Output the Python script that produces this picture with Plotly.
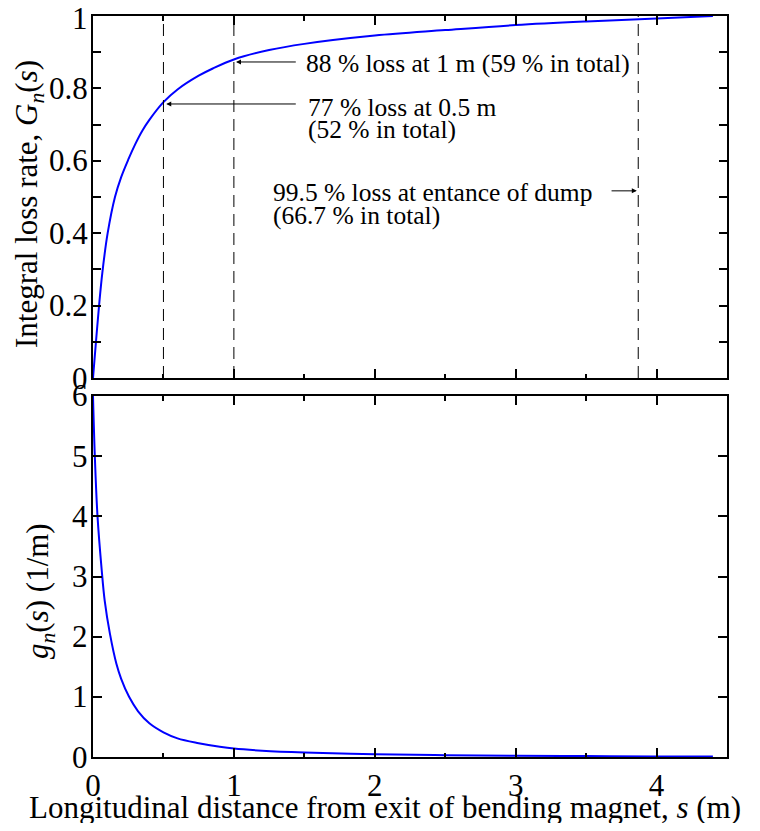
import plotly.graph_objects as go

# ---- data ----
s_G = [0, 0.021, 0.043, 0.066, 0.104, 0.156, 0.2, 0.25, 0.3, 0.35, 0.4, 0.5, 0.6, 0.75, 0.85, 1.0, 1.25, 1.5, 2.0, 2.5, 3.0, 3.5, 4.0, 4.4]
G_n = [0, 0.10, 0.20, 0.29, 0.40, 0.50, 0.555, 0.603, 0.646, 0.683, 0.713, 0.762, 0.797, 0.835, 0.855, 0.880, 0.906, 0.923, 0.946, 0.961, 0.975, 0.985, 0.993, 1.0]

s_g = [0, 0.013, 0.032, 0.062, 0.083, 0.12, 0.166, 0.2, 0.256, 0.32, 0.4, 0.5, 0.6, 0.75, 0.9, 1.0, 1.2, 1.5, 2.0, 2.5, 3.0, 3.5, 4.0, 4.4]
g_n = [6.0, 5.0, 4.0, 3.1, 2.6, 2.05, 1.55, 1.3, 1.0, 0.76, 0.56, 0.41, 0.31, 0.23, 0.17, 0.14, 0.105, 0.075, 0.045, 0.03, 0.02, 0.015, 0.01, 0.008]

marker_s = [0.5, 1.0, 3.87]   # dashed vertical lines

y_top_ticks = [round(0.1 * i, 1) for i in range(11)]
y_top_labels = [0, 0.2, 0.4, 0.6, 0.8, 1]
y_top_text = ["0", "0.2", "0.4", "0.6", "0.8", "1"]
y_bot_ticks = [0, 1, 2, 3, 4, 5, 6]
y_bot_text = ["0", "1", "2", "3", "4", "5", "6"]
x_ticks = [0, 1, 2, 3, 4]
x_text = ["0", "1", "2", "3", "4"]

FONT = "Liberation Serif"
BLUE = "#0000ff"

# page is 760x831; the html body adds an 8px margin, so the figure is 744x815 at (8, 8)
OFF = 8
W, H = 760 - 2 * OFF, 831 - 2 * OFF
PLOT_L, PLOT_R, PLOT_T, PLOT_B = 93, 727, 16, 757       # plot area in page pixels
L, R = PLOT_L - OFF, W - (PLOT_R - OFF)
T, B = PLOT_T - OFF, H - (PLOT_B - OFF)
PW, PH = W - L - R, H - T - B


def px_x(px):
    return (px - PLOT_L) / PW


def px_y(py):
    return (PLOT_B - py) / PH


fig = go.Figure()
fig.add_trace(go.Scatter(x=s_G, y=G_n, mode="lines", line=dict(color=BLUE, width=2, shape="spline", smoothing=1.0),
                         xaxis="x", yaxis="y", showlegend=False))
fig.add_trace(go.Scatter(x=s_g, y=g_n, mode="lines", line=dict(color=BLUE, width=2, shape="spline", smoothing=1.0),
                         xaxis="x2", yaxis="y2", showlegend=False))

for xs in marker_s:
    fig.add_shape(type="line", xref="x", yref="y domain", x0=xs, x1=xs, y0=0, y1=1,
                  line=dict(color="black", width=1, dash="12px,7px"))

axis_common = dict(showline=True, linecolor="black", linewidth=2, mirror="ticks", ticks="inside",
                   tickcolor="black", tickwidth=1.5, showgrid=False, zeroline=False, automargin=False,
                   tickfont=dict(family=FONT, size=31, color="black"))
minor_x = dict(dtick=0.5, ticklen=4.5, ticks="inside", tickcolor="black", tickwidth=1.5)

fig.update_layout(
    width=W, height=H,
    margin=dict(l=L, r=R, t=T, b=B),
    paper_bgcolor="white", plot_bgcolor="white",
    xaxis=dict(domain=[0, 1], range=[0, 4.5], anchor="y", tickvals=x_ticks, ticklen=9,
               showticklabels=False, minor=minor_x, **axis_common),
    yaxis=dict(domain=[px_y(378), 1.0], range=[0, 1], anchor="x", tickvals=y_top_ticks,
               ticklen=8, showticklabels=False, **axis_common),
    xaxis2=dict(domain=[0, 1], range=[0, 4.5], anchor="y2", tickvals=x_ticks, ticktext=x_text,
                ticklen=9, minor=minor_x, **axis_common),
    yaxis2=dict(domain=[0, px_y(396)], range=[0, 6], anchor="x2", tickvals=y_bot_ticks, ticklen=9,
                showticklabels=False, **axis_common),
)

tick_font = dict(family=FONT, size=31, color="black")
for v, t in zip(y_top_labels, y_top_text):
    fig.add_annotation(text=t, xref="paper", yref="y", x=px_x(90), y=v, xanchor="right", yanchor="middle",
                       showarrow=False, font=tick_font, yshift=-2 if v == 1 else 0)
for v, t in zip(y_bot_ticks, y_bot_text):
    fig.add_annotation(text=t, xref="paper", yref="y2", x=px_x(90), y=v, xanchor="right", yanchor="middle",
                       showarrow=False, font=tick_font)

title_font = dict(family=FONT, size=31, color="black")
fig.add_annotation(text="Integral loss rate, <i>G<sub>n</sub></i>(<i>s</i>)", textangle=-90,
                   xref="paper", yref="paper", x=px_x(29), y=px_y(204), xanchor="center", yanchor="middle",
                   showarrow=False, font=title_font)
fig.add_annotation(text="<i>g<sub>n</sub></i>(<i>s</i>) (1/m)", textangle=-90,
                   xref="paper", yref="paper", x=px_x(40), y=px_y(591), xanchor="center", yanchor="middle",
                   showarrow=False, font=title_font)
fig.add_annotation(text="Longitudinal distance from exit of bending magnet, <i>s</i> (m)",
                   xref="paper", yref="paper", x=px_x(385), y=px_y(807), xanchor="center", yanchor="middle",
                   showarrow=False, font=title_font)

ann_font = dict(family=FONT, size=25.5, color="black")
arrows = [
    dict(x=1.015, y=0.873, ax=1.45, ay=0.873),
    dict(x=0.52, y=0.757, ax=1.45, ay=0.757),
    dict(x=3.86, y=0.517, ax=3.67, ay=0.517),
]
for a in arrows:
    fig.add_annotation(x=a["x"], y=a["y"], ax=a["ax"], ay=a["ay"], xref="x", yref="y", axref="x", ayref="y",
                       text="", showarrow=True, arrowhead=2, arrowsize=1, arrowwidth=1, arrowcolor="black")

texts = [
    ("88 % loss at 1 m (59 % in total)", 1.50, 0.868),
    ("77 % loss at 0.5 m", 1.515, 0.748),
    ("(52 % in total)", 1.515, 0.686),
    ("99.5 % loss at entance of dump", 1.26, 0.513),
    ("(66.7 % in total)", 1.26, 0.448),
]
for t, x, y in texts:
    fig.add_annotation(x=x, y=y, xref="x", yref="y", text=t, showarrow=False, xanchor="left", yanchor="middle",
                       font=ann_font)

fig.write_html("out.html")
